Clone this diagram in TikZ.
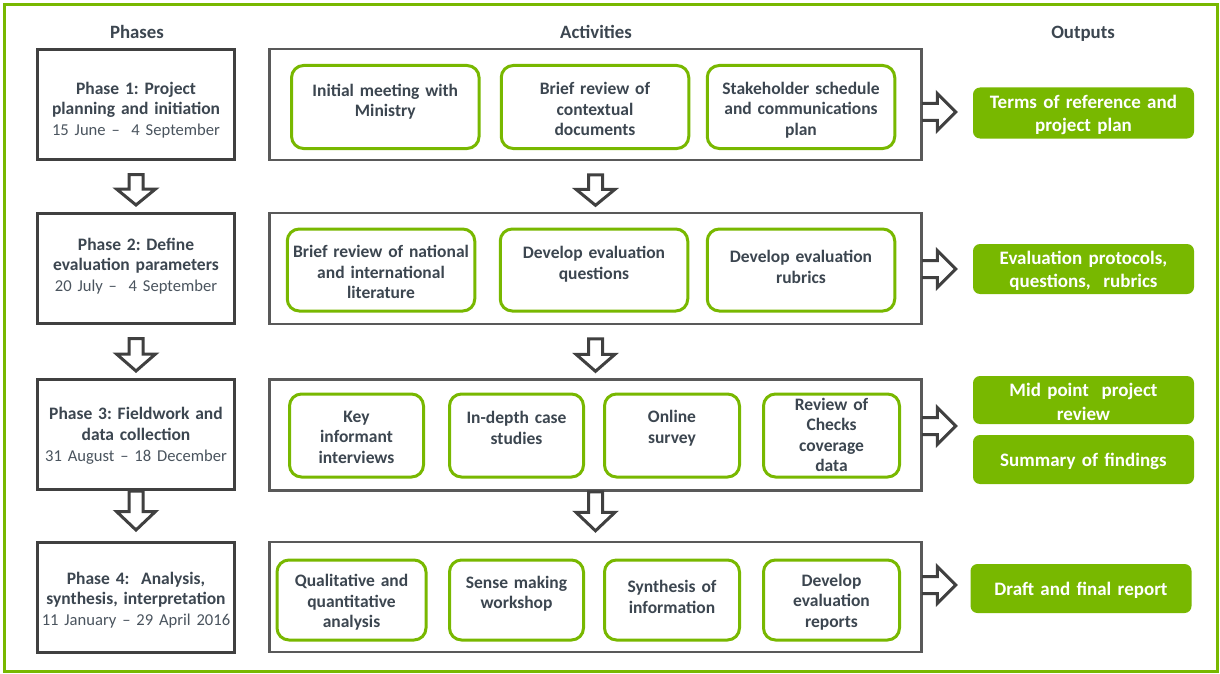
\documentclass[tikz,border=0pt]{standalone}
\usepackage{fontspec}
\setmainfont{Carlito}
\definecolor{grn}{HTML}{78B800}
\definecolor{txt}{HTML}{3C4650}
\definecolor{dtxt}{HTML}{4A545E}
\definecolor{dgray}{HTML}{404040}
\definecolor{mgray}{HTML}{595959}
\newcommand\actitem[7]{%
  \node[item, minimum width=#4pt, minimum height=#5pt] (#1) at (#2,#3) {};
  \node[itemtext] (#1t) at (#2,#6) {#7};}
\newcommand\blockdown[4]{%
  \draw[blockarrow, shift={(#1)}] (-7,#2) -- (-7,#3) -- (-19.5,#3) -- (0,#4) -- (19.5,#3) -- (7,#3) -- (7,#2) -- cycle;}
\newcommand\blockright[2]{%
  \draw[blockarrow, shift={(#1)}] (-1,{#2-8.5}) -- (14.5,{#2-8.5}) -- (14.5,{#2-18.5}) -- (33,#2) -- (14.5,{#2+18.5}) -- (14.5,{#2+8.5}) -- (-1,{#2+8.5});}
\newcommand\datefont{\fontsize{16.6}{20.8}\selectfont\color{dtxt}}
\frenchspacing
\begin{document}
\begin{tikzpicture}[x=1pt,y=-1pt,
  phasebox/.style={draw=dgray, line width=3pt, minimum width=197pt, minimum height=110pt, inner sep=0pt},
  phasetext/.style={align=center, text width=200pt, text=txt, inner sep=0pt, font=\fontsize{17.5}{20.8}\selectfont\frenchspacing},
  actbox/.style={draw=mgray, line width=2.6pt, minimum width=652pt, inner sep=0pt},
  item/.style={draw=grn, line width=3pt, rounded corners=12pt, inner sep=0pt},
  itemtext/.style={align=center, text width=200pt, text=txt, inner sep=0pt, font=\bfseries\fontsize{17.5}{20.5}\selectfont\frenchspacing},
  outbox/.style={fill=grn, rounded corners=7pt, inner sep=0pt, minimum width=221pt},
  outtext/.style={text=white, align=center, inner sep=0pt, text width=221pt, font=\bfseries\fontsize{19}{23.3}\selectfont\frenchspacing},
  head/.style={text=txt, inner sep=0pt, anchor=base, font=\bfseries\fontsize{18.8}{22}\selectfont},
  blockarrow/.style={draw=dgray, line width=3pt, line join=miter}
]
\useasboundingbox (0,0) rectangle (1220,674);
\fill[white] (0,0) rectangle (1220,674);
\draw[grn, line width=3pt] (4.5,4.5) rectangle (1217.5,671.5);

% headers
\node[head] (hp) at (137,39) {Phases};
\node[head] (ha) at (596,39) {Activities};
\node[head] (ho) at (1083,39) {Outputs};

% phase boxes
\node[phasebox] (p1) at (136,104.5) {};
\node[phasetext] (p1t) at (136,110) {\textbf{Phase 1: Project}\\\textbf{planning and initiation}\\{\datefont 15 June –\ \ 4 September}};
\node[phasebox] (p2) at (136,268.5) {};
\node[phasetext] (p2t) at (136,266) {\textbf{Phase 2: Define}\\\textbf{evaluation parameters}\\{\datefont 20 July –\ \ 4 September}};
\node[phasebox] (p3) at (136,434.5) {};
\node[phasetext] (p3t) at (136,436) {\textbf{Phase 3: Fieldwork and}\\\textbf{data collection}\\{\datefont 31 August – 18 December}};
\node[phasebox] (p4) at (136,597) {};
\node[phasetext] (p4t) at (136,600) {\textbf{Phase 4:\ \ Analysis,}\\\textbf{synthesis, interpretation}\\{\datefont 11 January – 29 April 2016}};

% activity boxes
\node[actbox, minimum height=111pt] (a1) at (595.5,104.5) {};
\node[actbox, minimum height=111pt] (a2) at (595.5,268.5) {};
\node[actbox, minimum height=111pt] (a3) at (595.5,435) {};
\node[actbox, minimum height=110pt] (a4) at (595.5,597) {};

% row 1
\actitem{i11}{385.3}{107}{187.5}{83}{101.5}{Initial meeting with\\Ministry}
\actitem{i12}{595}{107}{187.5}{83}{109}{Brief review of\\contextual\\documents}
\actitem{i13}{801}{107}{187.5}{83}{110}{Stakeholder schedule\\and communications\\plan}
% row 2
\actitem{i21}{381}{270}{187.5}{82}{272}{Brief review of national\\and international\\literature}
\actitem{i22}{594}{270}{187.5}{82}{264}{Develop evaluation\\questions}
\actitem{i23}{801}{270}{187.5}{82}{267}{Develop evaluation\\rubrics}
% row 3
\actitem{i31}{356.5}{435.5}{134}{83}{437}{Key\\informant\\interviews}
\actitem{i32}{516.5}{435.5}{134}{83}{428}{In-depth case\\studies}
\actitem{i33}{672}{435.5}{135}{83}{428}{Online\\survey}
\actitem{i34}{831.5}{435.5}{136}{83}{435}{Review of\\Checks\\coverage\\data}
% row 4
\actitem{i41}{351.5}{600}{149}{80}{602.5}{Qualitative and\\quantitative\\analysis}
\actitem{i42}{516.5}{600}{134}{80}{593.5}{Sense making\\workshop}
\actitem{i43}{672}{600}{135}{80}{597}{Synthesis of\\information}
\actitem{i44}{831.5}{600}{136}{80}{602}{Develop\\evaluation\\reports}

% outputs
\node[outbox, minimum height=51pt] (o1) at (1083.5,113) {};
\node[outtext] (o1t) at (1083.5,115) {Terms of reference and\\project plan};
\node[outbox, minimum height=50pt] (o2) at (1083.5,269) {};
\node[outtext] (o2t) at (1083.5,271) {Evaluation protocols,\\questions,\ \ rubrics};
\node[outbox, minimum height=48pt] (o3) at (1083.5,400) {};
\node[outtext] (o3t) at (1083.5,402) {Mid point\ \ project\\review};
\node[outbox, minimum height=49pt] (o4) at (1083.5,459.5) {};
\node[outtext] (o4t) at (1083.5,461) {Summary of findings};
\node[outbox, minimum height=49pt] (o5) at (1081,588.5) {};
\node[outtext] (o5t) at (1081,590) {Draft and final report};

% down arrows
\blockdown{p1.south}{13.5}{28}{44}
\blockdown{p2.south}{13.5}{29}{46}
\blockdown{p3.south}{0}{20.5}{39}
\blockdown{a1.south}{13.5}{28}{44}
\blockdown{a2.south}{13.5}{29}{46}
\blockdown{a3.south}{0}{20.5}{39}

% right arrows
\blockright{a1.east}{7.5}
\blockright{a2.east}{0.5}
\blockright{a3.east}{-9}
\blockright{a4.east}{-12}
\end{tikzpicture}
\end{document}
